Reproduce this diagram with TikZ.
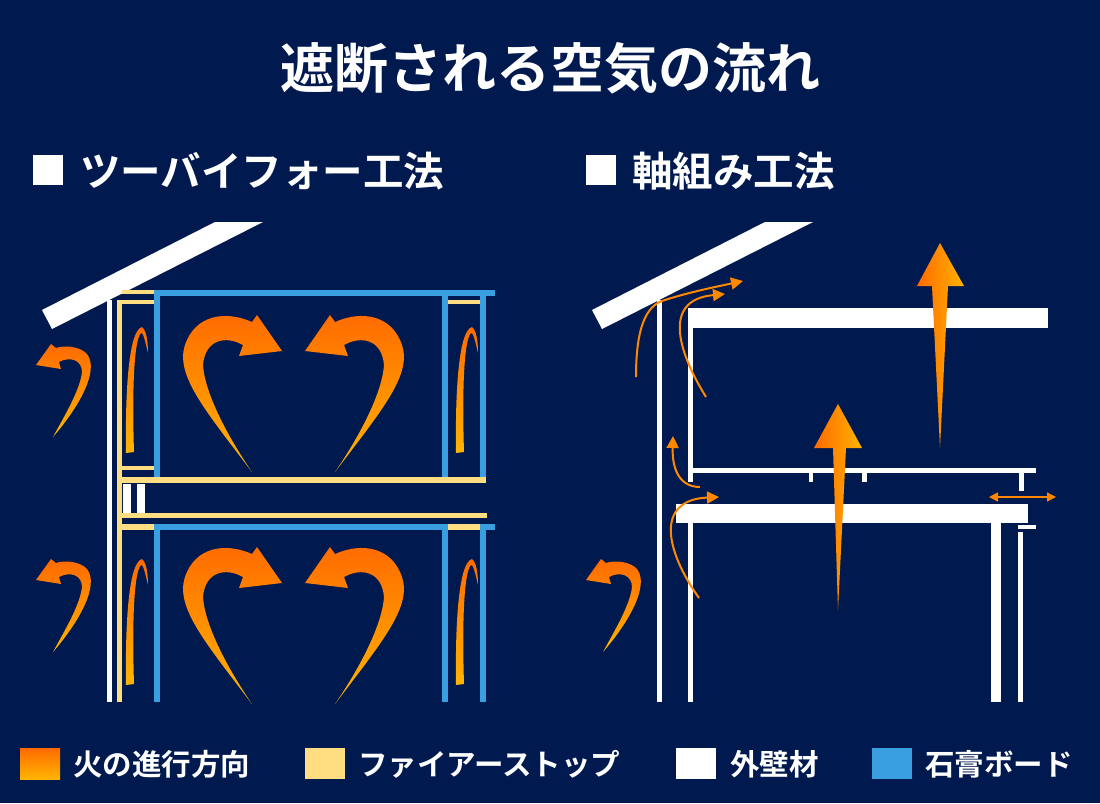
\documentclass[tikz,border=0pt]{standalone}
\usepackage{fontspec}
\usepackage{tikz}
\usetikzlibrary{arrows.meta}
\newfontfamily\jpfont{Noto Sans CJK JP Bold}

\definecolor{BgNavy}{HTML}{001A4F}
\definecolor{BoardBlue}{HTML}{3A9FE0}
\definecolor{StopYellow}{HTML}{FFDD80}
\definecolor{FireOrange}{HTML}{FF6A00}
\definecolor{FireYellow}{HTML}{FFB400}

\tikzset{
	fire/.style={top color=FireOrange, bottom color=FireYellow},
	fireside/.style={left color=FireOrange, right color=FireYellow},
	flow/.style={FireOrange!60!FireYellow, line width=2pt, -{Triangle[length=12pt, width=12pt]}},
	label/.style={text=white, font=\jpfont, inner sep=0pt, anchor=west}
}

% big curled arrow, tail at bottom
\newcommand{\bigcurl}{%
	\shade[fire] (252,472) .. controls (205,410) and (175,375) .. (185,345) .. controls (195,315) and (225,310) .. (252,322)
	-- (257,315) -- (282,351) -- (239,356) -- (243,345) .. controls (225,335) and (205,340) .. (203,365) .. controls (205,395) and (230,440) .. (252,472) -- cycle;}
% small curled arrow outside
\newcommand{\smallcurl}{%
	\shade[fire] (53,437) .. controls (85,400) and (100,365) .. (85,352) .. controls (75,345) and (62,346) .. (56,348)
	-- (51,344) -- (36,365) -- (61,369) -- (59,362) .. controls (70,356) and (82,360) .. (82,372) .. controls (80,390) and (65,415) .. (53,437) -- cycle;}
% thin rising flame in a wall cavity
\newcommand{\thinflame}{%
	\shade[fire] (126,453) .. controls (125,380) and (130,330) .. (142,327) .. controls (146,330) and (148,340) .. (148,353)
	.. controls (145,340) and (143,332) .. (141,333) .. controls (134,340) and (132,390) .. (134,452) -- cycle;}
% roof
\newcommand{\roofslab}{\fill[white] (42,310) -- (52,329) -- (263,222) -- (215,222) -- cycle;}

\begin{document}
\begin{tikzpicture}[x=1pt, y=-1pt]
	\fill[BgNavy] (0,0) rectangle (1100,803);

	% titles
	\node[label, anchor=center, font=\jpfont\fontsize{54}{54}\selectfont] (title) at (550,68) {遮断される空気の流れ};
	\fill[white] (33,155) rectangle (63,185);
	\node[label, font=\jpfont\fontsize{40.5}{40.5}\selectfont] (twobyfour) at (80,171) {ツーバイフォー工法};
	\fill[white] (586,155) rectangle (616,185);
	\node[label, font=\jpfont\fontsize{40.5}{40.5}\selectfont] (jikugumi) at (632,171) {軸組み工法};

	% ---- two-by-four ----
	\roofslab
	\fill[white] (107,300) rectangle (112,702);
	\fill[StopYellow] (117,300) rectangle (122,702);
	\foreach \dy in {0,234} {
		\begin{scope}[shift={(0,\dy)}]
			\fill[StopYellow] (122,290) rectangle (154,294);
			\fill[StopYellow] (448,290) rectangle (480,294);
			\fill[BoardBlue] (154,290) rectangle (495,296);
		\end{scope}
	}
	\foreach \xa in {154,442,480} {
		\fill[BoardBlue] (\xa,290) rectangle (\xa+6,478);
		\fill[BoardBlue] (\xa,524) rectangle (\xa+6,702);
	}
	\fill[StopYellow] (122,300) rectangle (154,304);
	\fill[StopYellow] (448,300) rectangle (480,304);
	\fill[StopYellow] (122,466) rectangle (154,470);
	\fill[StopYellow] (122,477) rectangle (486,483);
	\fill[StopYellow] (122,513) rectangle (487,518);
	\fill[StopYellow] (122,524) rectangle (154,530);
	\fill[StopYellow] (448,524) rectangle (480,530);
	\fill[white] (123,484) rectangle (131,513);
	\fill[white] (137,484) rectangle (145,513);

	\foreach \dy in {0,232} {
		\begin{scope}[shift={(0,\dy)}]
			\bigcurl
			\begin{scope}[xshift=587pt, xscale=-1] \bigcurl \end{scope}
			\thinflame
			\begin{scope}[xshift=330pt] \thinflame \end{scope}
		\end{scope}
	}
	\smallcurl
	\begin{scope}[shift={(0,215)}] \smallcurl \end{scope}

	% ---- jikugumi ----
	\begin{scope}[xshift=550pt] \roofslab \end{scope}
	\fill[white] (657,300) rectangle (662,702);
	\fill[white] (688,308) rectangle (693,482);
	\fill[white] (688,523) rectangle (693,702);
	\fill[white] (688,308) rectangle (1048,328);
	\fill[white] (693,468) rectangle (1036,473);
	\fill[white] (809,473) rectangle (813,482);
	\fill[white] (862,473) rectangle (867,482);
	\fill[white] (1019,473) rectangle (1024,491);
	\fill[white] (676,504) rectangle (1028,523);
	\fill[white] (991,523) rectangle (1001,702);
	\fill[white] (1018,525) rectangle (1036,529);
	\fill[white] (1018,532) rectangle (1023,702);

	\shade[fireside] (940,243) -- (964,286) -- (948,286) -- (940,448) -- (932,286) -- (917,286) -- cycle;
	\shade[fireside] (838,404) -- (862,448) -- (846,448) -- (838,610) -- (833,448) -- (814,448) -- cycle;

	\coordinate (eaveA) at (636,377);
	\coordinate (eaveB) at (743,281);
	\coordinate (cavA) at (706,397);
	\coordinate (cavB) at (725,294);
	\coordinate (gapA) at (700,487);
	\coordinate (gapB) at (673,436);
	\coordinate (lowA) at (699,598);
	\coordinate (lowB) at (719,497);
	\coordinate (sideA) at (989,497);
	\coordinate (sideB) at (1056,497);
	\draw[flow] (eaveA) .. controls (636,330) and (645,305) .. (665,300) .. controls (690,292) and (715,287) .. (eaveB);
	\draw[flow] (cavA) .. controls (680,355) and (660,300) .. (cavB);
	\draw[flow] (gapA) .. controls (680,487) and (672,470) .. (gapB);
	\draw[flow] (lowA) .. controls (665,550) and (655,500) .. (lowB);
	\draw[flow, line width=1.5pt, {Triangle[length=9pt, width=9pt]}-{Triangle[length=9pt, width=9pt]}] (sideA) -- (sideB);
	\begin{scope}[shift={(550,215)}] \smallcurl \end{scope}

	% legend
	\shade[fire] (20,748) rectangle (60,779);
	\node[label, font=\jpfont\fontsize{29.5}{29.5}\selectfont] (lgfire) at (73,764) {火の進行方向};
	\fill[StopYellow] (305,748) rectangle (345,779);
	\node[label, font=\jpfont\fontsize{29.5}{29.5}\selectfont] (lgstop) at (358,764) {ファイアーストップ};
	\fill[white] (676,748) rectangle (716,779);
	\node[label, font=\jpfont\fontsize{29.5}{29.5}\selectfont] (lgwall) at (730,764) {外壁材};
	\fill[BoardBlue] (872,748) rectangle (912,779);
	\node[label, font=\jpfont\fontsize{29.5}{29.5}\selectfont] (lgboard) at (925,764) {石膏ボード};
\end{tikzpicture}
\end{document}
